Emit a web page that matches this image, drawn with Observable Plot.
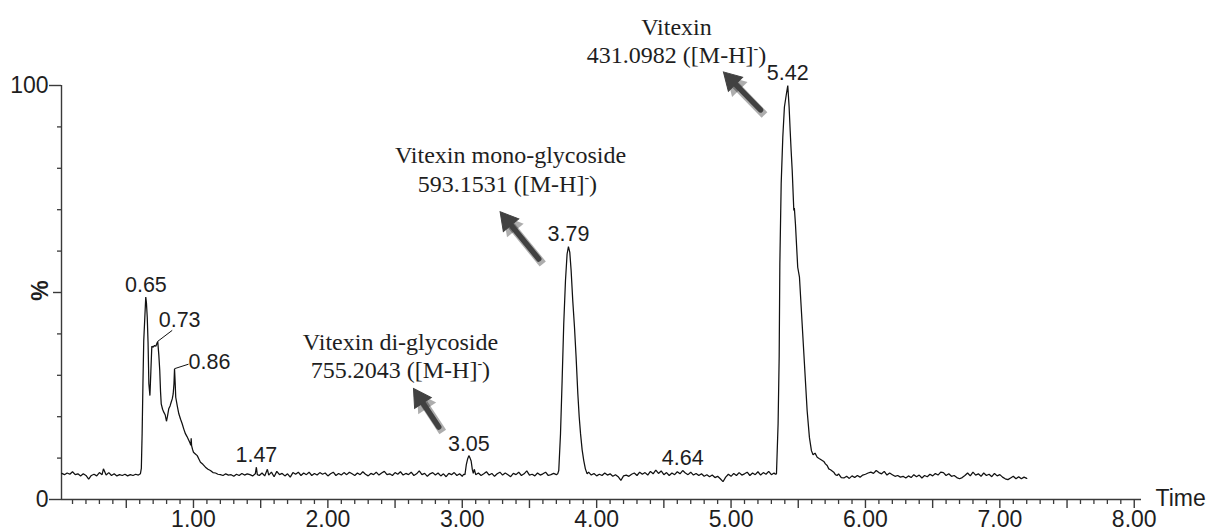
<!DOCTYPE html>
<html><head><meta charset="utf-8">
<script src="https://cdn.jsdelivr.net/npm/d3@7"></script>
<script src="https://cdn.jsdelivr.net/npm/@observablehq/plot@0.6"></script>
<style>html,body{margin:0;padding:0;background:#fff}</style>
</head><body><div id="chart"></div>
<script>
// ---- chromatogram trace: [retention time (min), relative intensity (%)] ----
const trace = [
[0.02,6.3],[0.04,6.0],[0.06,6.4],[0.08,6.1],[0.10,6.7],[0.12,6.0],[0.14,6.2],[0.16,5.7],[0.18,6.2],[0.20,5.8],
[0.22,4.9],[0.24,5.8],[0.26,6.1],[0.28,5.7],[0.30,6.5],[0.32,6.0],[0.33,7.4],[0.35,5.9],[0.37,6.5],[0.39,5.8],
[0.41,6.2],[0.43,5.7],[0.45,6.0],[0.47,5.8],[0.49,6.1],[0.51,5.7],[0.53,6.0],[0.55,5.8],[0.57,6.1],[0.59,5.9],
[0.605,6.2],[0.612,7.5],[0.618,16],[0.624,28],[0.630,38.4],[0.638,44],[0.645,48.9],[0.650,47.5],[0.656,44],
[0.662,38],[0.668,28],[0.676,25.1],[0.683,31],[0.690,37],[0.700,36.8],[0.710,37.2],[0.720,37.0],[0.727,37.6],
[0.734,38.2],[0.742,35],[0.749,31.2],[0.755,26],[0.760,23.1],[0.770,21.8],[0.779,21.1],[0.790,20.4],[0.799,18.9],
[0.806,20.0],[0.816,21.9],[0.826,22.6],[0.834,23.5],[0.842,24.3],[0.849,25.5],[0.855,28],[0.859,31.6],[0.864,28],
[0.868,24.7],[0.880,22.5],[0.891,20.7],[0.904,19.4],[0.916,18.3],[0.928,17.0],[0.940,15.9],[0.952,15.2],[0.965,14.3],
[0.975,13.6],[0.980,13.1],[0.983,14.8],[0.986,13.0],[0.993,12.1],[1.000,11.4],[1.014,11.0],[1.028,10.6],[1.040,9.8],
[1.052,9.0],[1.070,8.5],[1.089,7.8],[1.108,7.3],[1.126,7.0],[1.145,6.5],[1.164,6.4],[1.182,6.1],[1.200,6.0],
[1.22,5.8],[1.24,6.2],[1.26,5.9],[1.28,6.0],[1.30,5.6],[1.32,6.1],[1.34,5.8],[1.36,6.3],[1.38,5.9],[1.40,6.2],
[1.42,6.0],[1.44,5.7],[1.46,6.2],[1.468,7.8],[1.475,6.0],[1.49,5.8],[1.51,6.4],[1.53,5.7],[1.55,7.3],[1.56,5.9],
[1.58,6.6],[1.60,5.5],[1.62,6.8],[1.64,6.0],[1.66,6.3],[1.68,5.7],[1.70,6.2],[1.72,5.4],[1.74,6.5],[1.76,6.1],
[1.78,6.6],[1.80,5.8],[1.82,6.4],[1.84,6.0],[1.86,6.6],[1.88,5.8],[1.90,6.3],[1.92,5.9],[1.94,6.5],[1.96,6.1],
[1.98,6.4],[2.00,5.7],[2.02,6.2],[2.04,6.6],[2.06,5.8],[2.08,6.3],[2.10,5.9],[2.12,6.5],[2.14,6.0],[2.16,6.6],
[2.18,6.2],[2.20,5.8],[2.22,6.4],[2.24,6.0],[2.26,6.7],[2.28,6.1],[2.30,5.7],[2.32,6.3],[2.34,6.0],[2.36,6.6],
[2.38,5.9],[2.40,6.4],[2.42,6.8],[2.44,6.0],[2.46,6.2],[2.48,5.8],[2.50,6.5],[2.52,6.1],[2.54,6.7],[2.56,5.9],
[2.58,6.3],[2.60,6.0],[2.62,6.6],[2.64,5.8],[2.66,6.2],[2.68,6.9],[2.70,6.0],[2.72,6.3],[2.74,5.6],[2.76,6.2],
[2.78,6.5],[2.80,5.9],[2.82,6.4],[2.84,5.7],[2.86,6.2],[2.88,5.5],[2.90,6.3],[2.92,6.0],[2.94,6.5],[2.96,5.8],
[2.98,6.2],[3.00,5.6],[3.01,6.1],[3.02,6.0],[3.03,8.4],[3.04,9.8],[3.049,10.6],[3.058,10.0],[3.066,9.3],[3.075,7.2],
[3.082,6.3],[3.09,7.3],[3.10,6.0],[3.12,6.4],[3.14,5.8],[3.16,6.2],[3.18,6.7],[3.20,5.9],[3.22,6.3],[3.24,5.6],
[3.26,6.2],[3.28,6.6],[3.30,5.9],[3.32,6.4],[3.34,6.0],[3.36,5.5],[3.38,6.3],[3.40,6.0],[3.42,6.6],[3.44,5.8],
[3.46,6.2],[3.48,6.9],[3.50,5.9],[3.52,6.1],[3.54,5.7],[3.56,6.4],[3.58,5.9],[3.60,6.2],[3.62,6.6],[3.64,5.8],
[3.66,6.0],[3.68,6.3],[3.70,6.0],[3.71,6.2],[3.718,7.0],[3.731,15.9],[3.743,28.7],[3.755,42.4],[3.768,52.9],
[3.780,59.3],[3.790,61.1],[3.800,59.7],[3.810,55.3],[3.822,48.1],[3.835,41.6],[3.847,34.4],[3.860,25.5],[3.870,20.0],
[3.880,15.9],[3.892,12.0],[3.904,9.4],[3.916,7.4],[3.929,6.2],[3.94,6.6],[3.96,5.9],[3.98,6.3],[4.00,5.7],[4.02,6.1],
[4.04,5.8],[4.06,6.4],[4.08,5.9],[4.10,6.2],[4.12,5.6],[4.14,6.0],[4.16,5.5],[4.18,4.6],[4.20,5.7],[4.22,5.9],
[4.24,5.6],[4.26,6.1],[4.28,6.4],[4.30,5.8],[4.32,6.6],[4.34,6.1],[4.36,6.5],[4.38,5.9],[4.40,6.8],[4.42,6.2],
[4.44,7.1],[4.46,6.3],[4.48,6.9],[4.50,6.0],[4.52,6.5],[4.54,5.8],[4.56,6.4],[4.58,6.0],[4.60,6.7],[4.62,6.2],
[4.64,7.0],[4.66,6.4],[4.68,6.0],[4.70,6.6],[4.72,5.9],[4.74,6.3],[4.76,5.8],[4.78,6.2],[4.80,5.6],[4.82,6.0],
[4.84,5.5],[4.86,5.9],[4.88,5.3],[4.90,5.6],[4.92,5.0],[4.94,4.3],[4.96,5.4],[4.98,6.1],[5.00,5.6],[5.02,6.3],
[5.04,5.8],[5.06,6.5],[5.08,5.9],[5.10,6.2],[5.12,6.6],[5.14,5.8],[5.16,6.4],[5.18,6.0],[5.20,6.7],[5.22,5.9],
[5.24,6.5],[5.26,6.1],[5.28,6.8],[5.30,6.0],[5.32,6.4],[5.33,6.1],[5.338,6.2],[5.350,18.3],[5.358,34.4],[5.363,56.9],
[5.373,76.3],[5.385,87.5],[5.397,94.8],[5.412,98.0],[5.422,100],[5.432,94.8],[5.440,89.0],[5.447,84.3],[5.455,79.5],
[5.467,69.8],[5.471,70.4],[5.479,66.6],[5.496,56.1],[5.509,53.7],[5.529,42.4],[5.546,32.8],[5.566,21.5],[5.583,15.0],
[5.598,11.8],[5.610,10.8],[5.625,11.2],[5.641,10.2],[5.655,9.9],[5.670,9.6],[5.690,9.2],[5.702,8.6],[5.715,8.2],
[5.727,7.4],[5.740,7.2],[5.752,6.9],[5.764,6.6],[5.776,6.0],[5.789,5.8],[5.80,6.2],[5.82,5.3],[5.84,5.2],[5.86,5.6],
[5.88,5.1],[5.90,5.7],[5.92,5.3],[5.94,5.8],[5.96,5.4],[5.98,5.9],[6.00,6.1],[6.02,6.4],[6.04,6.6],[6.06,6.3],
[6.08,7.0],[6.10,6.5],[6.12,6.2],[6.14,6.8],[6.16,5.9],[6.18,6.4],[6.20,6.0],[6.22,5.6],[6.24,5.8],[6.26,5.4],
[6.28,5.6],[6.30,5.2],[6.32,5.7],[6.34,5.3],[6.36,6.0],[6.38,5.5],[6.40,5.9],[6.42,5.2],[6.44,5.8],[6.46,5.5],
[6.48,6.1],[6.50,5.7],[6.52,6.3],[6.54,5.9],[6.56,6.6],[6.58,6.5],[6.60,5.8],[6.62,6.2],[6.64,5.6],[6.66,5.8],
[6.68,5.3],[6.70,5.0],[6.72,5.3],[6.74,5.8],[6.76,6.4],[6.78,5.7],[6.80,6.6],[6.82,5.9],[6.84,6.2],[6.86,5.6],
[6.88,6.4],[6.90,5.8],[6.92,6.1],[6.94,5.5],[6.96,6.3],[6.98,5.7],[7.00,6.0],[7.02,5.4],[7.04,5.0],[7.06,4.8],
[7.08,5.2],[7.10,5.6],[7.12,5.0],[7.14,5.5],[7.16,5.0],[7.18,5.4],[7.20,5.1]
];

// ---- peak labels ----
const peakLabels     = ["0.65","0.73","0.86","1.47","3.05","3.79","4.64","5.42"];
const peakApexTime   = [0.646, 0.734, 0.859, 1.468, 3.049, 3.790, 4.640, 5.422];
const peakApexValue  = [48.9, 38.2, 31.6, 7.8, 10.6, 61.1, 7.0, 100];
const leaderPeaks    = ["0.73","0.86"];

// ---- compound annotations ----
const annoText  = ["Vitexin","431.0982 ([M-H]⁻)","Vitexin mono-glycoside","593.1531 ([M-H]⁻)","Vitexin di-glycoside","755.2043 ([M-H]⁻)"];
const annoTime  = [4.594, 4.594, 3.359, 3.336, 2.540, 2.540];
const annoValue = [114.0, 107.2, 83.1, 76.1, 37.9, 31.2];

const arrowTipTime   = [4.946, 3.284, 2.639];
const arrowTipValue  = [103.2, 69.4, 26.7];
const arrowTailTime  = [5.219, 3.569, 2.825];
const arrowTailValue = [94.1, 58.1, 17.5];

// ---- axes ----
const xLabelValues = [1, 2, 3, 4, 5, 6, 7, 8];
const xTickLabels  = ["1.00","2.00","3.00","4.00","5.00","6.00","7.00","8.00"];
const xMajorTicks  = [0.5, 1, 1.5, 2, 2.5, 3, 3.5, 4, 4.5, 5, 5.5, 6, 6.5, 7, 7.5, 8];
const yLabelValues = [0, 100];
const yTickLabels  = ["0", "100"];
const yMinorTicks  = [10, 20, 30, 40, 60, 70, 80, 90];
const yMidTick     = [50];
const yAxisTitle   = "%";
const xAxisTitle   = "Time";

// ---- layout ----
const W = 1211, H = 531, mL = 61, mR = 70, mT = 85, mB = 32;
const xDom = [0.018, 8.054], yDom = [0, 100];
const kx = (W - mL - mR) / (xDom[1] - xDom[0]);   // px per minute
const ky = (H - mT - mB) / (yDom[1] - yDom[0]);   // px per %
const pxT = p => p / kx, pxV = p => p / ky;

const xMinor = d3.range(1, 81).map(i => i / 10).filter(t => !xMajorTicks.some(m => Math.abs(m - t) < 1e-6));

const peaks = peakLabels.map((s, i) => ({label: s, t: peakApexTime[i], v: peakApexValue[i]}));
const centered = peaks.filter(p => !leaderPeaks.includes(p.label));
const p073 = peaks.filter(p => p.label === "0.73");
const p086 = peaks.filter(p => p.label === "0.86");

const annos = annoText.map((s, i) => ({text: s, t: annoTime[i], v: annoValue[i]}));

const HEAD = 11; // px from tip to triangle centroid
const arrows = arrowTipTime.map((_, i) => {
  const dxp = (arrowTipTime[i] - arrowTailTime[i]) * kx;
  const dyp = -(arrowTipValue[i] - arrowTailValue[i]) * ky;
  const len = Math.hypot(dxp, dyp), ux = dxp / len, uy = dyp / len;
  return {
    t1: arrowTailTime[i], v1: arrowTailValue[i],
    t2: arrowTipTime[i], v2: arrowTipValue[i],
    tc: arrowTipTime[i] - pxT(ux * HEAD), vc: arrowTipValue[i] + pxV(uy * HEAD),
    rot: Math.atan2(ux, -uy) * 180 / Math.PI
  };
});

const ink = "#1e1e1e", axisInk = "#3a3a3a", arrowInk = "#414141";
const sans = "Liberation Sans, Arial, sans-serif", serif = "Liberation Serif, Times New Roman, serif";

const svg = Plot.plot({
  width: W, height: H,
  marginLeft: mL, marginRight: mR, marginTop: mT, marginBottom: mB,
  x: {domain: xDom, axis: null},
  y: {domain: yDom, axis: null},
  style: {fontFamily: sans, fontSize: "23px", color: ink, background: "#fff", overflow: "visible"},
  marks: [
    // axes
    Plot.ruleY([0], {stroke: axisInk, strokeWidth: 1.4}),
    Plot.ruleX([xDom[0]], {stroke: axisInk, strokeWidth: 1.4}),
    Plot.ruleX(xMinor, {x: d => d, y1: 0, y2: -pxV(5), stroke: axisInk, strokeWidth: 1.3}),
    Plot.ruleX(xMajorTicks, {x: d => d, y1: 0, y2: -pxV(9), stroke: axisInk, strokeWidth: 1.4}),
    Plot.text(xLabelValues, {x: d => d, y: 0, text: (d, i) => xTickLabels[i], dy: 20, fontSize: 23, fill: ink}),
    Plot.text([xAxisTitle], {x: xDom[1], y: 0, text: d => d, dx: 14, dy: -1, textAnchor: "start", fontSize: 23, fill: ink}),
    Plot.ruleY(yMinorTicks, {y: d => d, x1: xDom[0] - pxT(4), x2: xDom[0], stroke: axisInk, strokeWidth: 1.3}),
    Plot.ruleY(yMidTick, {y: d => d, x1: xDom[0] - pxT(8), x2: xDom[0], stroke: axisInk, strokeWidth: 1.4}),
    Plot.ruleY(yLabelValues, {y: d => d, x1: xDom[0] - pxT(12), x2: xDom[0], stroke: axisInk, strokeWidth: 1.4}),
    Plot.text(yLabelValues, {x: xDom[0], y: d => d, text: (d, i) => yTickLabels[i], dx: -13, textAnchor: "end", fontSize: 23, fill: ink}),
    Plot.text(yMidTick, {x: xDom[0], y: d => d, text: () => yAxisTitle, dx: -21, dy: -2, rotate: -90, fontSize: 23, fontWeight: "bold", fill: ink}),
    // trace
    Plot.line(trace, {x: d => d[0], y: d => d[1], stroke: "#111", strokeWidth: 1.25, strokeLinejoin: "miter"}),
    // peak labels
    Plot.text(centered, {x: "t", y: "v", text: "label", dy: -12, fontSize: 21.5, fill: ink}),
    Plot.link(p073, {x1: "t", y1: "v", x2: d => d.t + pxT(14.5), y2: d => d.v + pxV(11), stroke: "#111", strokeWidth: 1}),
    Plot.text(p073, {x: "t", y: "v", text: "label", dx: 1, dy: -21.5, textAnchor: "start", fontSize: 21.5, fill: ink}),
    Plot.link(p086, {x1: "t", y1: "v", x2: d => d.t + pxT(14), y2: d => d.v + pxV(4.5), stroke: "#111", strokeWidth: 1}),
    Plot.text(p086, {x: "t", y: "v", text: "label", dx: 14, dy: -7, textAnchor: "start", fontSize: 21.5, fill: ink}),
    // arrow shadows
    Plot.link(arrows, {x1: "t1", y1: "v1", x2: "tc", y2: "vc", dx: 4, dy: 5, stroke: "#000", strokeOpacity: 0.32, strokeWidth: 8, ariaLabel: "arrow-shadow"}),
    Plot.dot(arrows, {x: "tc", y: "vc", rotate: "rot", symbol: "triangle", r: 8, dx: 4, dy: 5, fill: "#000", fillOpacity: 0.32, stroke: null, ariaLabel: "arrow-shadow"}),
    // arrows
    Plot.link(arrows, {x1: "t1", y1: "v1", x2: "tc", y2: "vc", stroke: arrowInk, strokeWidth: 5.5, strokeLinecap: "round"}),
    Plot.dot(arrows, {x: "tc", y: "vc", rotate: "rot", symbol: "triangle", r: 7.4, fill: arrowInk, stroke: arrowInk, strokeWidth: 1}),
    // compound annotations
    Plot.text(annos, {x: "t", y: "v", text: "text", fontFamily: serif, fontSize: 24, fill: ink})
  ]
});

// soft blur for arrow shadows
const s = d3.select(svg);
const defs = s.insert("defs", ":first-child");
defs.append("filter").attr("id", "arrowShadow").attr("x", "-50%").attr("y", "-50%").attr("width", "200%").attr("height", "200%")
  .append("feGaussianBlur").attr("stdDeviation", 3.2);
s.selectAll("g[aria-label='arrow-shadow']").attr("filter", "url(#arrowShadow)");

// superscript charge sign
s.selectAll("text").each(function () {
  const txt = this.textContent;
  if (!txt.includes("⁻")) return;
  const [before, after] = txt.split("⁻");
  const el = d3.select(this);
  el.text(null);
  el.append("tspan").text(before);
  el.append("tspan").attr("dy", -10).attr("font-size", 14).text("-");
  el.append("tspan").attr("dy", 10).text(after);
});

document.getElementById("chart").appendChild(svg);
</script>
</body></html>
